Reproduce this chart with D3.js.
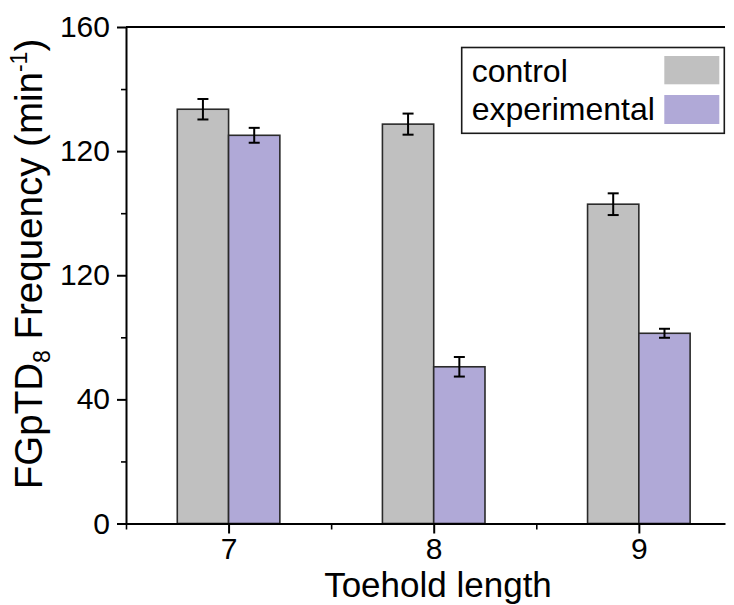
<!DOCTYPE html>
<html>
<head>
<meta charset="utf-8">
<script src="https://cdn.jsdelivr.net/npm/d3@7"></script>
<style>
  html, body { margin: 0; padding: 0; background: #fff; }
  svg { display: block; font-family: "Liberation Sans", Arial, sans-serif; }
</style>
</head>
<body>
<svg id="chart" width="734" height="605"></svg>
<script>
// ---- data ----
const categories = [7, 8, 9];
const controlValues = [133.5, 128.7, 102.9];
const controlErrors = [3.3, 3.4, 3.5];
const experimentalValues = [125.1, 50.5, 61.3];
const experimentalErrors = [2.4, 3.15, 1.45];
const yTickValues = [0, 40, 80, 120, 160];
const yTickLabels = ["0", "40", "120", "120", "160"];
const yMinorTicks = [20, 60, 100, 140];
const xMinorTicks = [6.5, 7.5, 8.5];
const seriesNames = ["control", "experimental"];
const seriesColors = ["#c0c0c0", "#b0a9d7"];

// ---- layout ----
const svg = d3.select("#chart");
const plotLeft = 126, plotRight = 725, plotTop = 27, plotBottom = 523.5;

const x = d3.scaleLinear().domain([6.5, 9.42]).range([plotLeft, plotRight]);
const y = d3.scaleLinear().domain([0, 160]).range([plotBottom, plotTop]);
const bw = (x(8) - x(7)) * 0.25;

// top frame line
svg.append("line")
  .attr("x1", plotLeft).attr("x2", plotRight)
  .attr("y1", plotTop).attr("y2", plotTop)
  .attr("stroke", "#000").attr("stroke-width", 2);

// bars
const series = [
  { name: seriesNames[0], values: controlValues, errors: controlErrors, color: seriesColors[0], offset: -1 },
  { name: seriesNames[1], values: experimentalValues, errors: experimentalErrors, color: seriesColors[1], offset: 0 }
];

series.forEach(s => {
  const g = svg.append("g");
  g.selectAll("rect")
    .data(categories)
    .join("rect")
    .attr("x", (c) => x(c) + s.offset * bw)
    .attr("y", (c, i) => y(s.values[i]))
    .attr("width", bw)
    .attr("height", (c, i) => y(0) - y(s.values[i]))
    .attr("fill", s.color)
    .attr("stroke", "#2a2a2a")
    .attr("stroke-width", 1.6);

  const eb = svg.append("g").attr("stroke", "#000").attr("stroke-width", 2);
  categories.forEach((c, i) => {
    const cx = x(c) + s.offset * bw + bw / 2;
    const hi = y(s.values[i] + s.errors[i]);
    const lo = y(s.values[i] - s.errors[i]);
    eb.append("line").attr("x1", cx).attr("x2", cx).attr("y1", hi).attr("y2", lo);
    eb.append("line").attr("x1", cx - 5.5).attr("x2", cx + 5.5).attr("y1", hi).attr("y2", hi);
    eb.append("line").attr("x1", cx - 5.5).attr("x2", cx + 5.5).attr("y1", lo).attr("y2", lo);
  });
});

// y axis
const yAxis = d3.axisLeft(y)
  .tickValues(yTickValues)
  .tickFormat((d, i) => yTickLabels[i])
  .tickSizeInner(9).tickSizeOuter(0).tickPadding(7);
const yg = svg.append("g").attr("transform", `translate(${plotLeft},0)`).call(yAxis);
yg.select(".domain").attr("stroke", "#000").attr("stroke-width", 2);
yg.selectAll(".tick line").attr("stroke", "#000").attr("stroke-width", 2);
yg.selectAll(".tick text").attr("font-size", 30).attr("fill", "#000")
  .attr("font-family", "Liberation Sans, Arial, sans-serif");

const yMinor = d3.axisLeft(y).tickValues(yMinorTicks).tickFormat("").tickSizeInner(5).tickSizeOuter(0);
const ymg = svg.append("g").attr("transform", `translate(${plotLeft},0)`).call(yMinor);
ymg.select(".domain").remove();
ymg.selectAll(".tick line").attr("stroke", "#000").attr("stroke-width", 1.6);

// x axis
const xAxis = d3.axisBottom(x)
  .tickValues(categories)
  .tickFormat(d3.format("d"))
  .tickSizeInner(10).tickSizeOuter(0).tickPadding(4);
const xg = svg.append("g").attr("transform", `translate(0,${plotBottom})`).call(xAxis);
xg.select(".domain").attr("stroke", "#000").attr("stroke-width", 2);
xg.selectAll(".tick line").attr("stroke", "#000").attr("stroke-width", 2);
xg.selectAll(".tick text").attr("font-size", 30).attr("fill", "#000")
  .attr("font-family", "Liberation Sans, Arial, sans-serif");

const xMinor = d3.axisBottom(x).tickValues(xMinorTicks).tickFormat("").tickSizeInner(6).tickSizeOuter(0);
const xmg = svg.append("g").attr("transform", `translate(0,${plotBottom})`).call(xMinor);
xmg.select(".domain").remove();
xmg.selectAll(".tick line").attr("stroke", "#000").attr("stroke-width", 1.6);

// x title
svg.append("text")
  .attr("x", 438).attr("y", 597)
  .attr("text-anchor", "middle")
  .attr("font-size", 35)
  .attr("fill", "#000")
  .text("Toehold length");

// y title
const yt = svg.append("text")
  .attr("transform", "translate(42,264) rotate(-90)")
  .attr("text-anchor", "middle")
  .attr("font-size", 38.5)
  .attr("fill", "#000");
yt.append("tspan").text("FGpTD");
yt.append("tspan").attr("font-size", 23).attr("dy", 8).text("8");
yt.append("tspan").attr("dy", -8).text(" Frequency (min");
yt.append("tspan").attr("font-size", 23).attr("dy", -15).text("-1");
yt.append("tspan").attr("dy", 15).text(")");

// legend
const lg = svg.append("g");
lg.append("rect")
  .attr("x", 461.7).attr("y", 47.5)
  .attr("width", 724.3 - 461.7).attr("height", 133.3 - 47.5)
  .attr("fill", "#fff").attr("stroke", "#1a1a1a").attr("stroke-width", 1.6);
const legY = [{ sy: 56, sh: 28.3, ty: 81.7 }, { sy: 95, sh: 29, ty: 120 }];
series.forEach((s, i) => {
  lg.append("rect")
    .attr("x", 664.3).attr("y", legY[i].sy)
    .attr("width", 55).attr("height", legY[i].sh)
    .attr("fill", s.color);
  lg.append("text")
    .attr("x", 471.7).attr("y", legY[i].ty)
    .attr("font-size", 32).attr("fill", "#000")
    .text(s.name);
});
</script>
</body>
</html>
